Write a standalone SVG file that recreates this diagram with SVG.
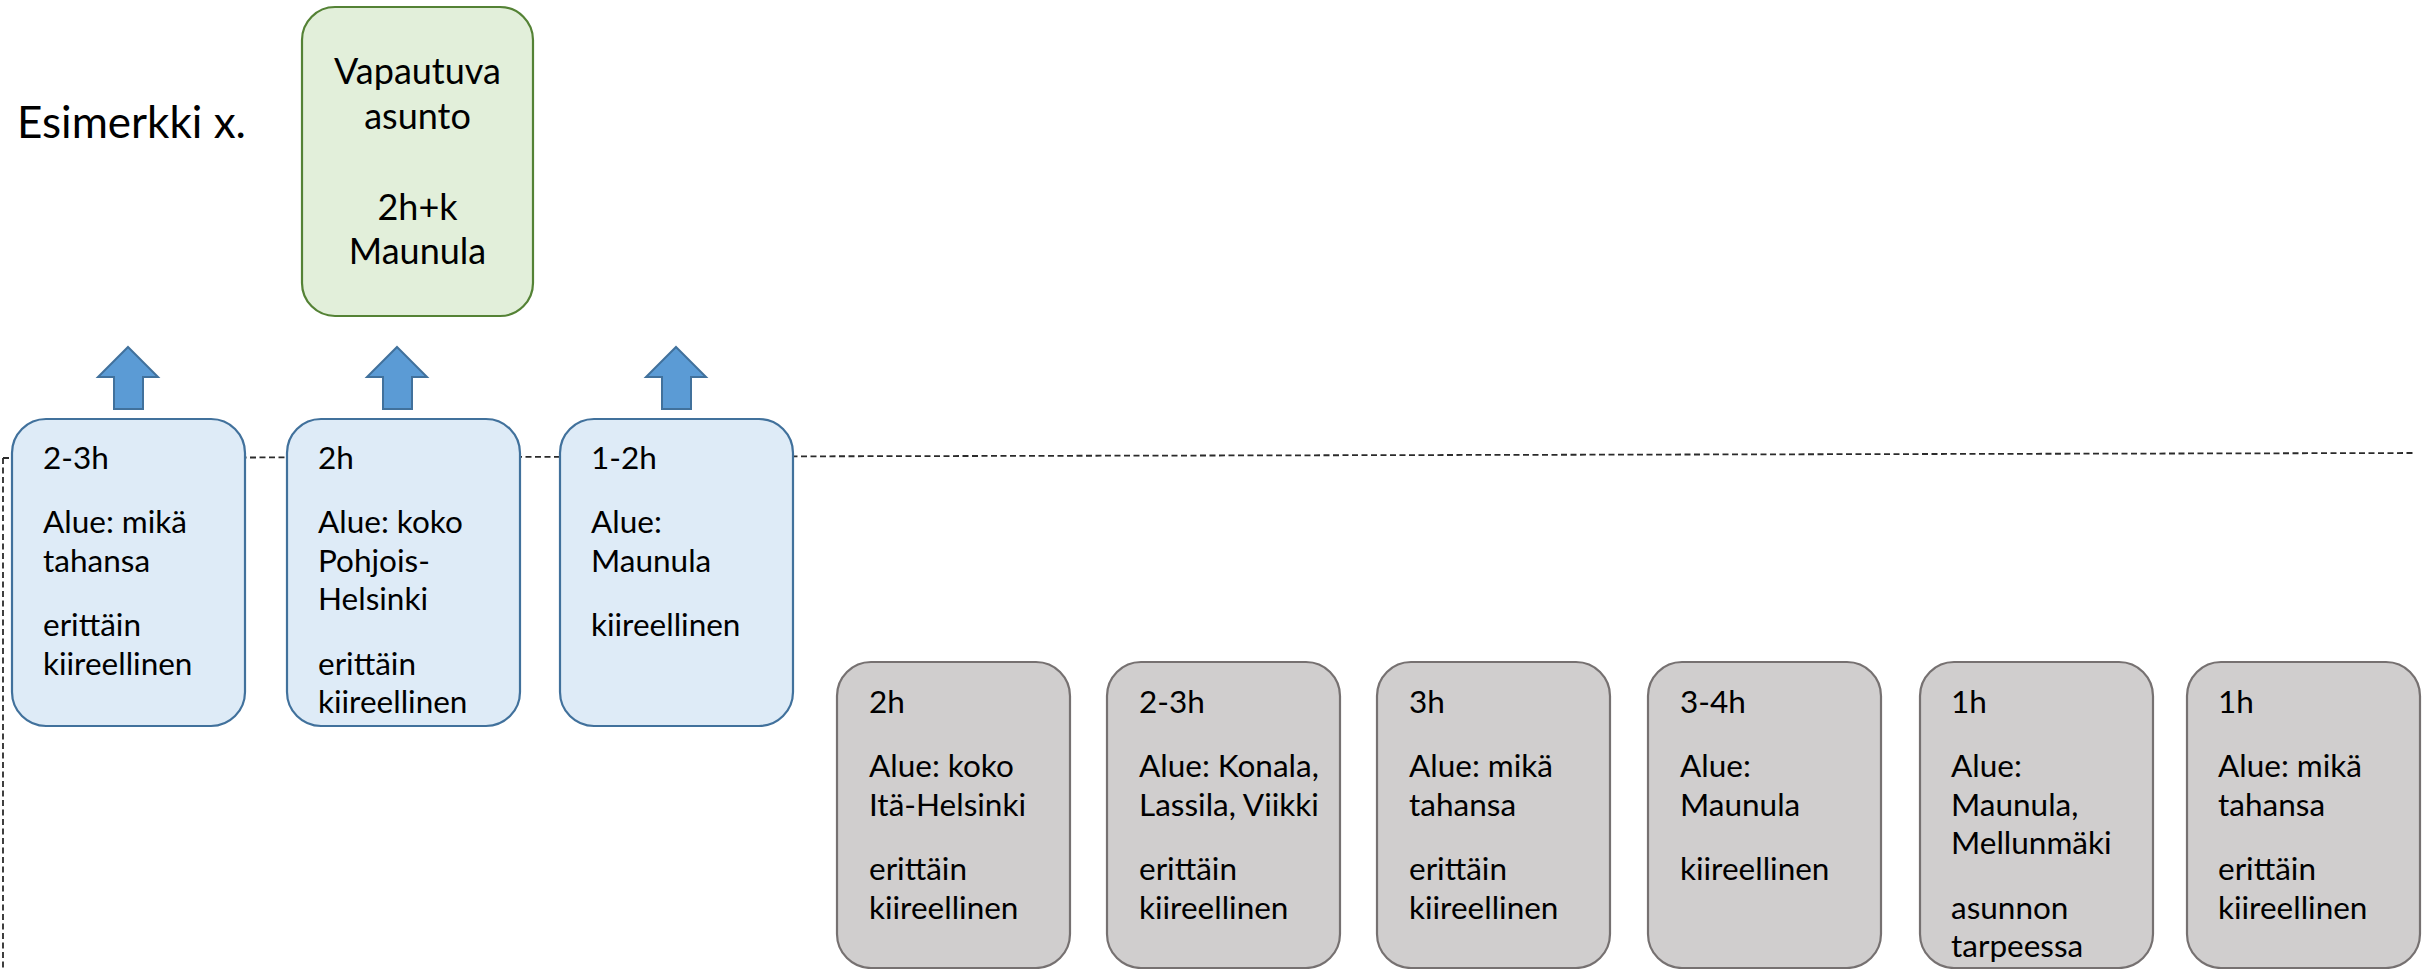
<svg xmlns="http://www.w3.org/2000/svg" width="2433" height="969" viewBox="0 0 2433 969">
<style>
text{font-family:Lato,"Liberation Sans",sans-serif;fill:#000}
.t{font-size:31.5px}
.g{font-size:36px;text-anchor:middle}
.blue{fill:#DEEBF7;stroke:#41719C;stroke-width:2.2}
.gray{fill:#D0CECE;stroke:#767171;stroke-width:2.2}
.green{fill:#E2EFDA;stroke:#548235;stroke-width:2.2}
.arr{fill:#5B9BD5;stroke:#41719C;stroke-width:2}
.dash{fill:none;stroke:#2b2b2b;stroke-width:1.8;stroke-dasharray:6 3.5}
</style>
<text x="17" y="138" style="font-size:44px">Esimerkki x.</text>
<g id="connectors">
<path class="dash" d="M3 458 L2415 453"/>
<path class="dash" d="M3 458 L3 969"/>
<path class="arr" d="M128 347 L158 377 L143 377 L143 409 L114 409 L114 377 L98 377 Z"/>
<path class="arr" d="M397 347 L427 377 L412 377 L412 409 L383 409 L383 377 L367 377 Z"/>
<path class="arr" d="M676 347 L706 377 L691 377 L691 409 L662 409 L662 377 L646 377 Z"/>
</g>
<g id="vapautuva">
<rect class="green" x="302" y="7" width="231" height="309" rx="33"/>
<text class="g"><tspan x="417.5" y="84">Vapautuva</tspan><tspan x="417.5" y="129">asunto</tspan><tspan x="417.5" y="220">2h+k</tspan><tspan x="417.5" y="264">Maunula</tspan></text>
</g>
<g id="b1">
<rect class="blue" x="12" y="419" width="233" height="307" rx="34"/>
<text class="t"><tspan x="43" y="469">2-3h</tspan><tspan x="43" y="533">Alue: mikä</tspan><tspan x="43" y="571.5">tahansa</tspan><tspan x="43" y="636">erittäin</tspan><tspan x="43" y="674.5">kiireellinen</tspan></text>
</g>
<g id="b2">
<rect class="blue" x="287" y="419" width="233" height="307" rx="34"/>
<text class="t"><tspan x="318" y="469">2h</tspan><tspan x="318" y="533">Alue: koko</tspan><tspan x="318" y="571.5">Pohjois-</tspan><tspan x="318" y="610">Helsinki</tspan><tspan x="318" y="674.5">erittäin</tspan><tspan x="318" y="713">kiireellinen</tspan></text>
</g>
<g id="b3">
<rect class="blue" x="560" y="419" width="233" height="307" rx="34"/>
<text class="t"><tspan x="591" y="469">1-2h</tspan><tspan x="591" y="533">Alue:</tspan><tspan x="591" y="571.5">Maunula</tspan><tspan x="591" y="636">kiireellinen</tspan></text>
</g>
<g id="g1">
<rect class="gray" x="837" y="662" width="233" height="306" rx="34"/>
<text class="t"><tspan x="869" y="713">2h</tspan><tspan x="869" y="777">Alue: koko</tspan><tspan x="869" y="815.5">Itä-Helsinki</tspan><tspan x="869" y="880">erittäin</tspan><tspan x="869" y="918.5">kiireellinen</tspan></text>
</g>
<g id="g2">
<rect class="gray" x="1107" y="662" width="233" height="306" rx="34"/>
<text class="t"><tspan x="1139" y="713">2-3h</tspan><tspan x="1139" y="777">Alue: Konala,</tspan><tspan x="1139" y="815.5">Lassila, Viikki</tspan><tspan x="1139" y="880">erittäin</tspan><tspan x="1139" y="918.5">kiireellinen</tspan></text>
</g>
<g id="g3">
<rect class="gray" x="1377" y="662" width="233" height="306" rx="34"/>
<text class="t"><tspan x="1409" y="713">3h</tspan><tspan x="1409" y="777">Alue: mikä</tspan><tspan x="1409" y="815.5">tahansa</tspan><tspan x="1409" y="880">erittäin</tspan><tspan x="1409" y="918.5">kiireellinen</tspan></text>
</g>
<g id="g4">
<rect class="gray" x="1648" y="662" width="233" height="306" rx="34"/>
<text class="t"><tspan x="1680" y="713">3-4h</tspan><tspan x="1680" y="777">Alue:</tspan><tspan x="1680" y="815.5">Maunula</tspan><tspan x="1680" y="880">kiireellinen</tspan></text>
</g>
<g id="g5">
<rect class="gray" x="1920" y="662" width="233" height="306" rx="34"/>
<text class="t"><tspan x="1951" y="713">1h</tspan><tspan x="1951" y="777">Alue:</tspan><tspan x="1951" y="815.5">Maunula,</tspan><tspan x="1951" y="854">Mellunmäki</tspan><tspan x="1951" y="918.5">asunnon</tspan><tspan x="1951" y="957">tarpeessa</tspan></text>
</g>
<g id="g6">
<rect class="gray" x="2187" y="662" width="233" height="306" rx="34"/>
<text class="t"><tspan x="2218" y="713">1h</tspan><tspan x="2218" y="777">Alue: mikä</tspan><tspan x="2218" y="815.5">tahansa</tspan><tspan x="2218" y="880">erittäin</tspan><tspan x="2218" y="918.5">kiireellinen</tspan></text>
</g>
</svg>
